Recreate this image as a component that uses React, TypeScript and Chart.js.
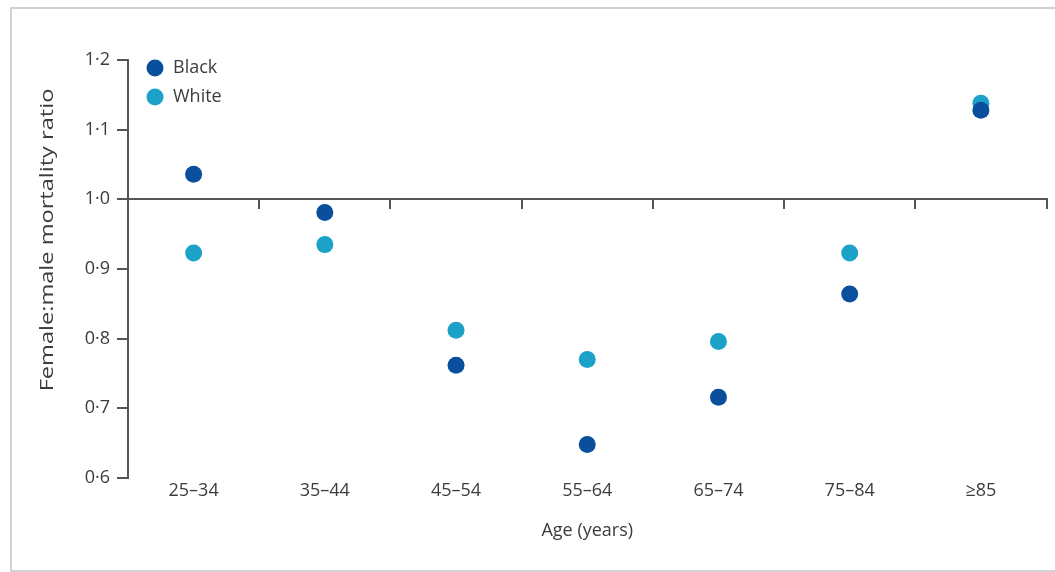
import React, { useEffect, useRef } from 'react';
import { Chart, registerables } from 'chart.js';

Chart.register(...registerables);

// ---- data ----
const ageGroups = ['25–34', '35–44', '45–54', '55–64', '65–74', '75–84', '≥85'];
const blackRatio = [1.036, 0.981, 0.762, 0.648, 0.716, 0.864, 1.128];
const whiteRatio = [0.923, 0.935, 0.812, 0.770, 0.796, 0.923, 1.138];
const seriesNames = ['Black', 'White'];
const yMin = 0.6;
const yMax = 1.2;
const yStep = 0.1;
const referenceLine = 1.0;
const yTitle = 'Female:male mortality ratio';
const xTitle = 'Age (years)';

const colors = ['#0a4f9d', '#1ca2c9'];
const FONT = "'Open Sans', sans-serif";
const TEXT = '#3c3c3c';
const AXIS = '#555555';

const insetLegend = {
  id: 'insetLegend',
  afterDraw(chart: any) {
    const { ctx, chartArea } = chart;
    ctx.save();
    chart.data.datasets.forEach((ds: any, i: number) => {
      const cx = chartArea.left + 27;
      const cy = chartArea.top + 8 + i * 29;
      ctx.beginPath();
      ctx.arc(cx, cy, 8.5, 0, Math.PI * 2);
      ctx.fillStyle = ds.backgroundColor;
      ctx.fill();
      ctx.fillStyle = TEXT;
      ctx.font = `18px ${FONT}`;
      ctx.textAlign = 'left';
      ctx.textBaseline = 'middle';
      ctx.fillText(ds.label, cx + 18, cy);
    });
    ctx.restore();
  },
};

const yTitlePlugin = {
  id: 'yTitle',
  afterDraw(chart: any) {
    const { ctx } = chart;
    ctx.save();
    ctx.translate(48, 240);
    ctx.rotate(-Math.PI / 2);
    ctx.scale(1.31, 1);
    ctx.fillStyle = TEXT;
    ctx.font = `18px ${FONT}`;
    ctx.textAlign = 'center';
    ctx.textBaseline = 'middle';
    ctx.fillText(yTitle, 0, 0);
    ctx.restore();
  },
};

export default function App() {
  const ref = useRef<HTMLCanvasElement | null>(null);

  useEffect(() => {
    if (!ref.current) return;
    const chart = new Chart(ref.current, {
      type: 'line',
      data: {
        labels: ageGroups,
        datasets: [
          {
            label: seriesNames[0],
            data: blackRatio,
            showLine: false,
            pointRadius: 8.5,
            pointBorderWidth: 0,
            backgroundColor: colors[0],
            borderColor: colors[0],
            xAxisID: 'x',
            yAxisID: 'y',
          },
          {
            label: seriesNames[1],
            data: whiteRatio,
            showLine: false,
            pointRadius: 8.5,
            pointBorderWidth: 0,
            backgroundColor: colors[1],
            borderColor: colors[1],
            xAxisID: 'x',
            yAxisID: 'y',
          },
        ],
      },
      options: {
        animation: false,
        responsive: true,
        maintainAspectRatio: false,
        events: [],
        layout: { padding: { top: 60, right: 6, left: 0, bottom: 0 } },
        plugins: { legend: { display: false }, tooltip: { enabled: false } },
        scales: {
          x: {
            type: 'category',
            position: 'bottom',
            offset: true,
            grid: { display: false, drawTicks: false },
            border: { display: false },
            ticks: { color: TEXT, font: { family: FONT, size: 18 }, padding: 2, maxRotation: 0 },
            title: {
              display: true,
              text: xTitle,
              color: TEXT,
              font: { family: FONT, size: 18 },
              padding: { top: 0, bottom: 30 },
            },
            afterFit(scale: any) {
              scale.height = 94;
            },
          },
          x2: {
            type: 'category',
            position: { y: referenceLine },
            offset: true,
            ticks: { display: false },
            grid: {
              offset: true,
              drawOnChartArea: false,
              drawTicks: true,
              tickLength: 9,
              color: AXIS,
              lineWidth: 2,
            },
            border: { display: true, color: AXIS, width: 2 },
          },
          y: {
            type: 'linear',
            position: 'left',
            min: yMin,
            max: yMax,
            ticks: {
              stepSize: yStep,
              color: TEXT,
              font: { family: FONT, size: 18 },
              padding: 7,
              callback: (v: any) => Number(v).toFixed(1).replace('.', '·'),
            },
            grid: { drawOnChartArea: false, drawTicks: true, tickLength: 11, color: AXIS, lineWidth: 2 },
            border: { display: true, color: AXIS, width: 2 },
            afterFit(scale: any) {
              scale.width = 128;
            },
          },
        },
      },
      plugins: [insetLegend, yTitlePlugin],
    } as any);
    return () => chart.destroy();
  }, []);

  return (
    <>
      <div
        style={{
          position: 'absolute',
          left: 10,
          top: 7,
          width: 1043,
          height: 561,
          borderLeft: '2px solid #d2d2d2',
          borderTop: '2px solid #d2d2d2',
          borderBottom: '2px solid #d2d2d2',
        }}
      />
      <div style={{ position: 'absolute', left: 0, top: 0, width: 1055, height: 572 }}>
        <canvas ref={ref} />
      </div>
    </>
  );
}
